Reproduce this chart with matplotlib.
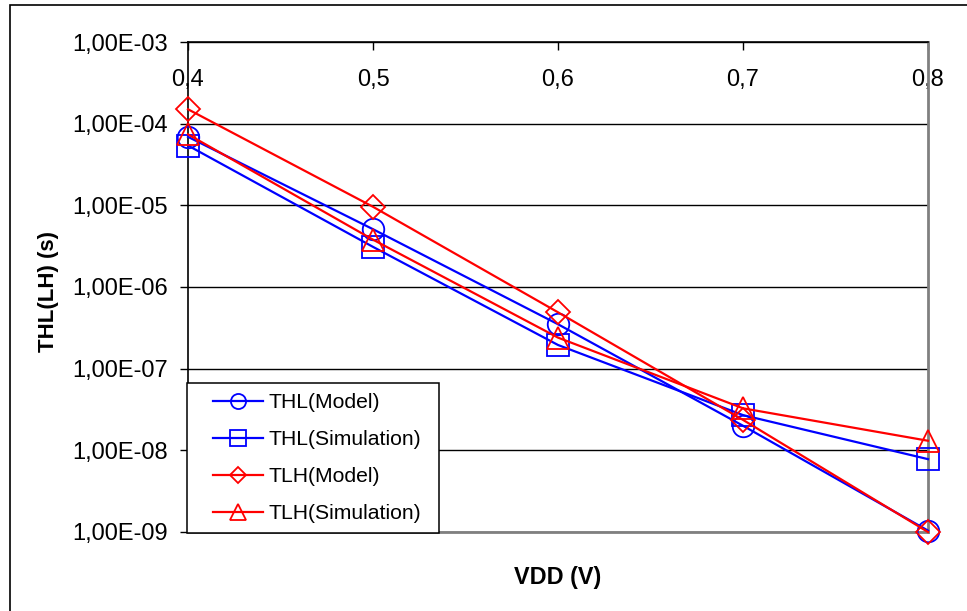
import matplotlib
matplotlib.use("Agg")
import matplotlib.pyplot as plt
import matplotlib.ticker as mticker
from matplotlib.patches import Rectangle

plt.rcParams["font.family"] = ["Liberation Sans", "DejaVu Sans"]

# data
vdd = [0.4, 0.5, 0.6, 0.7, 0.8]
thl_model = [6.9e-5, 5.1e-6, 3.5e-7, 2.0e-8, 1.04e-9]
thl_sim = [5.4e-5, 3.1e-6, 1.95e-7, 2.7e-8, 7.8e-9]
tlh_model = [1.5e-4, 9.6e-6, 4.9e-7, 2.36e-8, 1.0e-9]
tlh_sim = [7.4e-5, 3.8e-6, 2.4e-7, 3.27e-8, 1.31e-8]

xtick_labels = ["0,4", "0,5", "0,6", "0,7", "0,8"]
yticks = [1e-9, 1e-8, 1e-7, 1e-6, 1e-5, 1e-4, 1e-3]

W, H = 967, 611
fig = plt.figure(figsize=(W / 100, H / 100), dpi=100)
ax = fig.add_axes([188 / W, 1 - 532 / H, 740 / W, 490 / H])

series = [
    (thl_model, "#0000FF", "o", "THL(Model)"),
    (thl_sim, "#0000FF", "s", "THL(Simulation)"),
    (tlh_model, "#FF0000", "D", "TLH(Model)"),
    (tlh_sim, "#FF0000", "^", "TLH(Simulation)"),
]
for vals, col, mk, lab in series:
    ms = 15.5 if mk != "D" else 12
    ax.plot(vdd, vals, color=col, lw=1.6, marker=mk, ms=ms, mfc="none",
            mec=col, mew=1.3, label=lab, clip_on=False, zorder=3)

ax.set_yscale("log")
ax.set_ylim(1e-9, 1e-3)
ax.set_xlim(0.4, 0.8)
ax.yaxis.set_major_locator(mticker.FixedLocator(yticks))
ax.yaxis.set_minor_locator(mticker.NullLocator())
ax.yaxis.set_major_formatter(mticker.FuncFormatter(
    lambda v, p: ("%.2E" % v).replace(".", ",")))
ax.set_xticks(vdd)
ax.set_xticklabels(xtick_labels)

ax.grid(axis="y", color="black", lw=1)
ax.set_axisbelow(True)

for s in ["right", "bottom"]:
    ax.spines[s].set_color("#808080")
    ax.spines[s].set_linewidth(2)
for s in ["left", "top"]:
    ax.spines[s].set_color("black")
    ax.spines[s].set_linewidth(1.2)

ax.tick_params(axis="y", direction="out", length=6, width=1, pad=8.5,
               labelsize=17)
ax.tick_params(axis="x", bottom=False, labelbottom=False, top=True,
               labeltop=True, direction="in", length=6, width=1,
               pad=-35, labelsize=17)

ax.set_xlabel("VDD (V)", fontsize=16.8, fontweight="bold", va="center")
ax.xaxis.set_label_coords(0.5, -0.092)
ax.set_ylabel("THL(LH) (s)", fontsize=16, fontweight="bold", va="center")
ax.yaxis.set_label_coords(-0.188, 0.49)

# legend box (Excel style, wide left padding)
box = Rectangle((187 / W, 1 - 533 / H), 252 / W, 150 / H,
                transform=fig.transFigure, facecolor="white",
                edgecolor="black", lw=1.1, clip_on=False, zorder=4)
ax.add_patch(box)
leg = ax.legend(loc="upper left", bbox_to_anchor=(213 / W, 1 - 393 / H),
                bbox_transform=fig.transFigure, fontsize=15.2, frameon=False,
                handlelength=2.37, handletextpad=0.24, labelspacing=0.86,
                borderpad=0, borderaxespad=0, markerscale=0.7)
leg.set_zorder(5)

# outer chart frame
fig.add_artist(Rectangle((10 / W, -0.2), 1.2, 1.2 - 5 / H,
                         transform=fig.transFigure, fill=False,
                         edgecolor="black", lw=1.2))

fig.savefig("out.png", dpi=100)
